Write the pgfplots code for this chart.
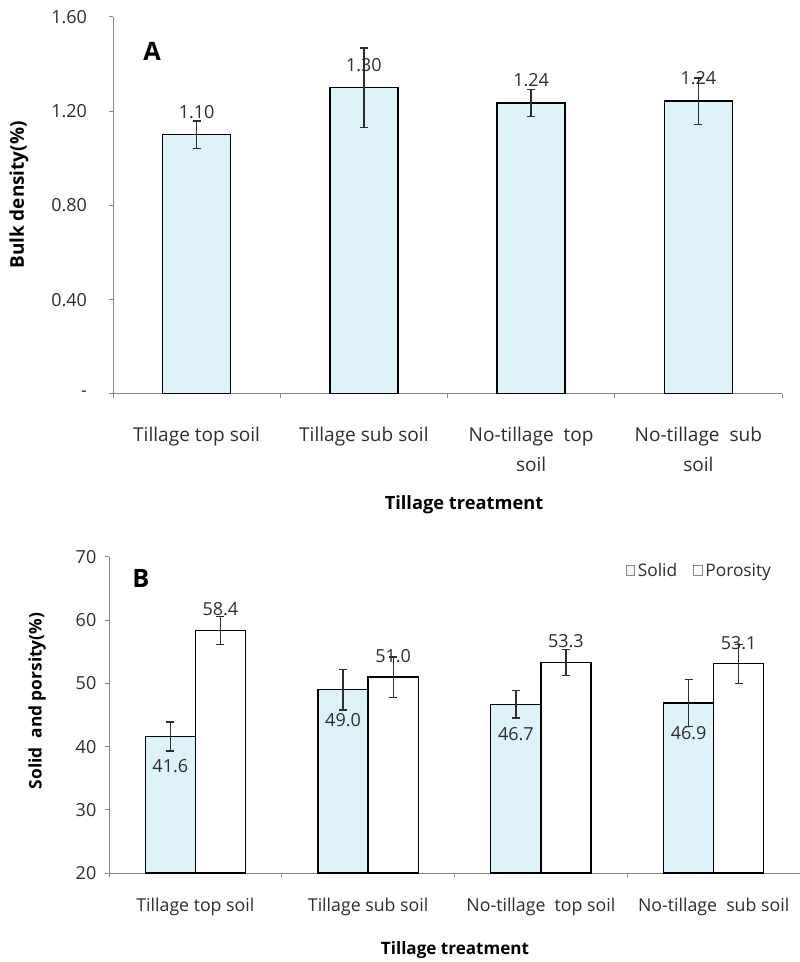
\documentclass[border=0pt]{standalone}
\usepackage{pgfplots}
\pgfplotsset{compat=1.18}
\usepackage{pgfplotstable}
\usepackage{fontspec}
\setmainfont{Open Sans}
\definecolor{barblue}{RGB}{221,242,249}
\definecolor{axgray}{RGB}{134,134,134}
\definecolor{txt}{RGB}{45,45,45}

\pgfplotstableread{
x y e lab
0 1.10 0.058 1.10
1 1.30 0.168 1.30
2 1.235 0.057 1.24
3 1.243 0.098 1.24
}\bulk
\pgfplotstableread{
x y e lab
0 41.6 2.3 41.6
1 49.0 3.2 49.0
2 46.7 2.2 46.7
3 46.9 3.7 46.9
}\solid
\pgfplotstableread{
x y e lab
0 58.4 2.2 58.4
1 51.0 3.2 51.0
2 53.3 2.1 53.3
3 53.1 3.1 53.1
}\poro

\pgfplotsset{
  mybase/.style={
    scale only axis,
    axis x line*=bottom, axis y line*=left,
    axis line style={axgray, line width=0.75pt, -},
    tick style={axgray, line width=0.75pt},
    tick align=outside, major tick length=3pt,
    xtick={-0.5,0.5,1.5,2.5,3.5}, x tick label as interval,
    xmin=-0.5, xmax=3.5,
    error bars/y dir=both, error bars/y explicit,
    error bars/error bar style={txt, line width=1pt},
    error bars/error mark options={txt, rotate=90, mark size=3pt, line width=1pt},
    point meta=explicit symbolic,
  },
}

\begin{document}
\begin{tikzpicture}[x=0.75pt,y=0.75pt]
\useasboundingbox (0,0) rectangle (799,962);

% ---------------- Panel A ----------------
\begin{axis}[mybase,
  at={(84.75pt,426pt)}, anchor=south west,
  width=501.75pt, height=282.75pt,
  ymin=0, ymax=1.6,
  ytick={0,0.4,0.8,1.2,1.6},
  yticklabels={-,0.40,0.80,1.20,1.60},
  yticklabel style={font=\fontsize{13.5}{15}\selectfont, text=txt, xshift=-13pt},
  xticklabels={Tillage top soil, Tillage sub soil, {No-tillage\ \ top\\soil}, {No-tillage\ \ sub\\soil}},
  xticklabel style={font=\fontsize{14.3}{22.5}\selectfont, text=txt, align=center, anchor=north, yshift=-18.5pt},
]
\addplot[ybar, bar width=0.407, fill=barblue, draw=black, line width=1pt,
  nodes near coords={\pgfplotspointmeta},
  every node near coord/.append style={anchor=center, yshift=17.25pt, font=\fontsize{13.5}{15}\selectfont, text=txt}]
  table[x=x, y=y, y error=e, meta=lab] {\bulk};
\end{axis}

% ---------------- Panel B ----------------
\begin{axis}[mybase,
  at={(81.75pt,66.75pt)}, anchor=south west,
  width=518.25pt, height=237pt,
  ymin=20, ymax=70,
  ytick={20,30,40,50,60,70},
  yticklabels={20,30,40,50,60,70},
  yticklabel style={font=\fontsize{13.5}{15}\selectfont, text=txt, xshift=-3pt},
  xticklabels={Tillage top soil, Tillage sub soil, {No-tillage\ \ top soil}, {No-tillage\ \ sub soil}},
  xticklabel style={font=\fontsize{13.3}{15}\selectfont, text=txt, anchor=north, yshift=-12.5pt},
  legend style={at={(0.968,0.997)}, anchor=north east, draw=none, fill=none,
    legend columns=2, font=\fontsize{13}{15}\selectfont, text=txt,
    /tikz/every even column/.append style={column sep=10pt}},
]
\addplot[ybar, bar width=0.29, bar shift=0pt, fill=barblue, draw=black, line width=1pt,
  legend image code/.code={\draw[axgray, fill=barblue!60, line width=0.6pt] (0pt,-3.5pt) rectangle (6.5pt,4.5pt);},
  nodes near coords={\pgfplotspointmeta},
  every node near coord/.append style={anchor=center, yshift=-22.5pt, font=\fontsize{13.5}{15}\selectfont, text=txt}]
  table[x expr=\thisrow{x}-0.145, y=y, y error=e, meta=lab] {\solid};
\addlegendentry{Solid}
\addplot[ybar, bar width=0.29, bar shift=0pt, fill=white, draw=black, line width=1pt,
  legend image code/.code={\draw[axgray, fill=white, line width=0.6pt] (0pt,-3.5pt) rectangle (6.5pt,4.5pt);},
  nodes near coords={\pgfplotspointmeta},
  every node near coord/.append style={anchor=center, yshift=15.75pt, font=\fontsize{13.5}{15}\selectfont, text=txt}]
  table[x expr=\thisrow{x}+0.145, y=y, y error=e, meta=lab] {\poro};
\addlegendentry{Porosity}
\end{axis}

% ---------------- labels ----------------
\node[font=\bfseries\fontsize{14.2}{16}\selectfont, rotate=90] at (19,767) {Bulk density(\%)};
\node[font=\bfseries\fontsize{13.7}{16}\selectfont] at (464,457) {Tillage treatment};
\node[font=\bfseries\fontsize{19}{22}\selectfont] at (152,911) {A};
\node[font=\bfseries\fontsize{13}{15}\selectfont, rotate=90] at (37,261) {Solid\ \ and porsity(\%)};
\node[font=\bfseries\fontsize{12.8}{15}\selectfont] at (455,12) {Tillage treatment};
\node[font=\bfseries\fontsize{19}{22}\selectfont] at (141,384) {B};
\end{tikzpicture}
\end{document}
